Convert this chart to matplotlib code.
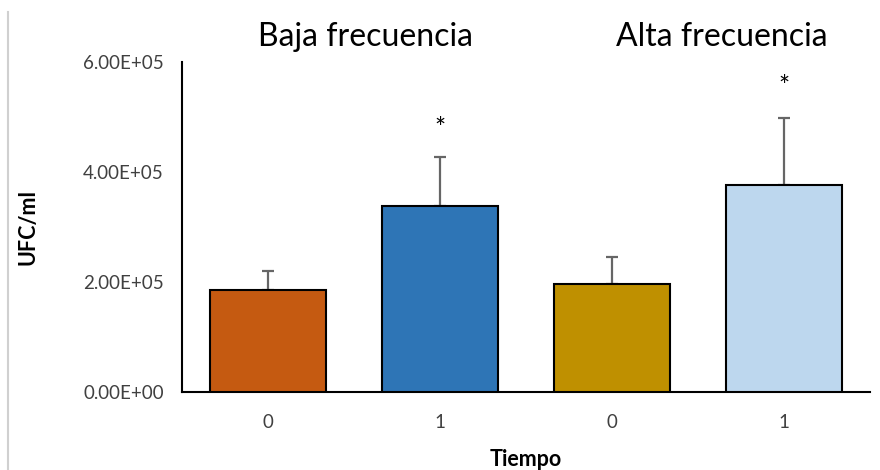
import matplotlib
matplotlib.use("Agg")
import matplotlib.pyplot as plt
from matplotlib.lines import Line2D

categories = ["0", "1", "0", "1"]
values = [1.86e5, 3.38e5, 1.96e5, 3.76e5]
errors = [0.34e5, 0.89e5, 0.49e5, 1.22e5]
colors = ["#C55A11", "#2E75B6", "#BF9000", "#BDD7EE"]
stars = ["", "*", "", "*"]
star_y = [None, 4.77e5, None, 5.54e5]
group_titles = ["Baja frecuencia", "Alta frecuencia"]
yticks = [0, 2e5, 4e5, 6e5]
ytick_labels = ["0.00E+00", "2.00E+05", "4.00E+05", "6.00E+05"]

plt.rcParams['font.family'] = ['Lato', 'DejaVu Sans']

fig = plt.figure(figsize=(8.8, 4.7), dpi=100)
ax = fig.add_axes([0.2068, 0.166, 0.782, 0.702])

x = list(range(len(values)))
ax.bar(x, values, width=0.67, color=colors, edgecolor="black", linewidth=1.5, zorder=3)
ax.errorbar(x, values, yerr=[[0]*len(errors), errors], fmt="none", ecolor="#666666",
            elinewidth=1.6, capsize=4, capthick=1.6, zorder=2)
for xi, s, sy in zip(x, stars, star_y):
    if s:
        ax.text(xi, sy, s, ha="center", va="center", fontsize=19, color="black")

ax.set_xlim(-0.5, 3.5)
ax.set_ylim(0, 6e5)
ax.set_yticks(yticks)
ax.set_yticklabels(ytick_labels)
ax.set_xticks(x)
ax.set_xticklabels(categories)
ax.tick_params(axis="both", length=0, labelsize=13.5, colors="#404040")
ax.tick_params(axis="y", pad=13)
ax.tick_params(axis="x", pad=16)
for side in ["top", "right"]:
    ax.spines[side].set_visible(False)
for side in ["left", "bottom"]:
    ax.spines[side].set_linewidth(1.5)
    ax.spines[side].set_color("black")

ax.set_ylabel("UFC/ml", fontsize=15.5, fontweight="bold", labelpad=32)
ax.set_xlabel("Tiempo", fontsize=15.5, fontweight="bold", labelpad=13)

fig.text(365/880, 1 - 37/470, group_titles[0], ha="center", va="center", fontsize=23, color="black")
fig.text(722/880, 1 - 37/470, group_titles[1], ha="center", va="center", fontsize=23, color="black")

fig.add_artist(Line2D([8/880, 8/880], [0, 1 - 12/470], transform=fig.transFigure,
                      color="#d0d0d0", linewidth=1.5))

fig.savefig("out.png", dpi=100)
